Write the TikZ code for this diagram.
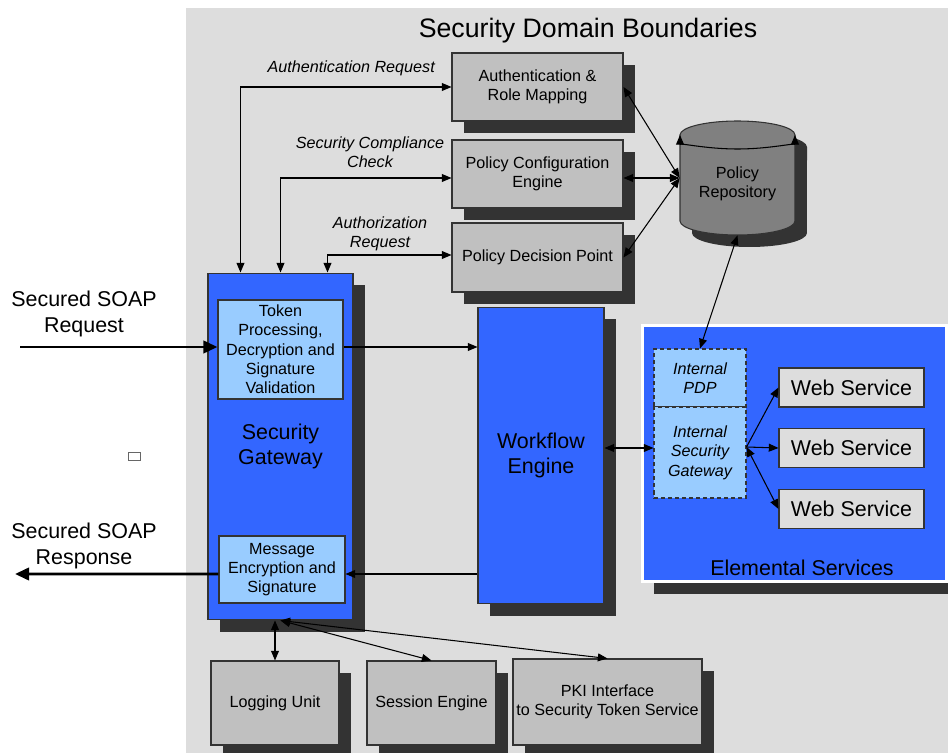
\documentclass[tikz,border=0pt]{standalone}
\usepackage{fontspec}
\setmainfont{Liberation Sans}
\usetikzlibrary{arrows.meta}
\usetikzlibrary{shadows}
\usetikzlibrary{calc}

\definecolor{bggray}{HTML}{DDDDDD}
\definecolor{boxgray}{HTML}{C0C0C0}
\definecolor{shadowgray}{HTML}{333333}
\definecolor{gwblue}{HTML}{3366FF}
\definecolor{lightblue}{HTML}{99CCFF}
\definecolor{repogray}{HTML}{808080}

\newcommand{\smalltxt}{\fontsize{9.2}{11}\selectfont}
\newcommand{\bigtxt}{\fontsize{12.2}{14.7}\selectfont}

\begin{document}
\begin{tikzpicture}[x=0.02cm, y=-0.02cm, >={Triangle[length=5.5pt,width=4.5pt]},
    hard shadow/.style={drop shadow={shadow xshift=6.8pt, shadow yshift=-6.8pt, fill=shadowgray, opacity=1}},
    box/.style={draw=shadowgray, line width=0.6pt, align=center, inner sep=0pt, font=\smalltxt},
    gray box/.style={box, fill=boxgray, hard shadow},
    blue box/.style={box, fill=gwblue, font=\bigtxt, hard shadow},
    inner box/.style={box, fill=lightblue},
    dashed box/.style={box, fill=lightblue, dash pattern=on 2.3pt off 1.7pt, font=\smalltxt\itshape},
    ws box/.style={box, fill=bggray, font=\bigtxt},
    link/.style={line width=0.6pt},
    big arrow/.style={line width=1.7pt, -{Triangle[length=8pt,width=7pt]}}]

    \useasboundingbox (0,0) rectangle (948,753);
    \fill[bggray] (186,8) rectangle (948,753);

    \node[font=\fontsize{15.2}{18}\selectfont] (title) at (588,31) {Security Domain Boundaries};

    % policy boxes
    \node[gray box, minimum width=3.42cm, minimum height=1.36cm] (auth) at (537.5,87) {Authentication \&\\Role Mapping};
    \node[gray box, minimum width=3.42cm, minimum height=1.36cm] (config) at (537.5,174) {Policy Configuration\\Engine};
    \node[gray box, minimum width=3.42cm, minimum height=1.38cm] (pdp) at (537.5,257.5) {Policy Decision Point};

    % repository
    \begin{scope}[shift={(12,12)}]
        \fill[shadowgray] (680,135) -- (680,221) arc[start angle=180, end angle=360, x radius=1.15cm, y radius=0.28cm]
            -- (795,135) arc[start angle=0, end angle=180, x radius=1.15cm, y radius=0.28cm] -- cycle;
    \end{scope}
    \filldraw[fill=repogray, draw=shadowgray, line width=0.6pt] (680,135) -- (680,221) arc[start angle=180, end angle=360, x radius=1.15cm, y radius=0.28cm]
        -- (795,135) arc[start angle=0, end angle=180, x radius=1.15cm, y radius=0.28cm] -- cycle;
    \draw[link, <->] (680,135) arc[start angle=180, end angle=360, x radius=1.15cm, y radius=0.28cm];
    \node[minimum width=2.3cm, minimum height=2.28cm, inner sep=0pt] (repo) at (737.5,178) {};
    \node[font=\smalltxt, align=center] (repotext) at (737.5,184) {Policy\\Repository};

    % gateway
    \node[blue box, minimum width=2.9cm, minimum height=6.94cm] (gw) at (280.5,446.5) {Security\\Gateway};
    \node[inner box, minimum width=2.5cm, minimum height=1.98cm] (token) at (280.5,349.5) {Token\\Processing,\\Decryption and\\Signature\\Validation};
    \node[inner box, minimum width=2.52cm, minimum height=1.34cm] (msg) at (282,569.5) {Message\\Encryption and\\Signature};

    \node[blue box, minimum width=2.52cm, minimum height=5.94cm] (wf) at (541,455.5) {Workflow\\Engine};

    % elemental services
    \node[draw=white, line width=1.7pt, fill=gwblue, minimum width=6.1cm, minimum height=5.14cm, hard shadow] (elem) at (794.5,453.5) {};
    \node[font=\bigtxt] (elemtext) at (802,568) {Elemental Services};
    \node[dashed box, minimum width=1.84cm, minimum height=1.16cm] (ipdp) at (700,378) {Internal\\PDP};
    \node[dashed box, minimum width=1.84cm, minimum height=1.82cm] (isg) at (700,452.5) {Internal\\Security\\Gateway};
    \foreach \y/\n in {387.5/ws1, 448/ws2, 509/ws3}
        \node[ws box, minimum width=2.9cm, minimum height=0.78cm] (\n) at (851.5,\y) {Web Service};

    % bottom row
    \node[gray box, minimum width=2.56cm, minimum height=1.68cm] (log) at (275,703) {Logging Unit};
    \node[gray box, minimum width=2.58cm, minimum height=1.68cm] (ses) at (431.5,703) {Session Engine};
    \node[gray box, minimum width=3.78cm, minimum height=1.72cm] (pki) at (607.5,702) {PKI Interface\\to Security Token Service};

    % outside
    \node[font=\bigtxt, align=center] (req) at (84,314) {Secured SOAP\\Request};
    \node[font=\bigtxt, align=center] (resp) at (84,546) {Secured SOAP\\Response};
    \node[draw=black!60, fill=white, minimum width=0.24cm, minimum height=0.16cm, inner sep=0pt] (dot) at (134,456) {};
    \coordinate (in) at (20,347);
    \coordinate (out) at (15,574);

    % request labels
    \node[font=\smalltxt\itshape, anchor=east] (authreq) at (441,68) {Authentication Request};
    \node[font=\smalltxt\itshape, align=center] (compl) at (370,152) {Security Compliance\\Check};
    \node[font=\smalltxt\itshape, align=center] (authz) at (380,234) {Authorization\\Request};

    % connectors
    \draw[link, <->] (auth.west) -| ([xshift=0.66cm]gw.north west);
    \draw[link, <->] ([yshift=-0.08cm]config.west) -| (gw.north);
    \draw[link, <->] ([yshift=0.05cm]pdp.west) -| ([xshift=-0.52cm]gw.north east);

    \draw[link, <->] (auth.east) -- (repo.west);
    \draw[link, <->] (repo.west -| config.east) -- (repo.west);
    \draw[link, <->] (pdp.east) -- (repo.west);
    \draw[link, <->] (repo.south) -- (ipdp.north);

    \draw[big arrow] (in) -- (in -| token.west);
    \draw[link, ->] ([yshift=0.05cm]token.east) -- ([yshift=0.05cm]token.east -| wf.west);
    \coordinate (msgin) at ([yshift=-0.09cm]msg.east);
    \draw[link, ->] (msgin -| wf.west) -- (msgin);
    \draw[big arrow] ([yshift=-0.09cm]msg.west) -- (out);

    \coordinate (isgin) at ([yshift=0.09cm]isg.west);
    \draw[link, <->] (isgin -| wf.east) -- (isgin);
    \coordinate (isgout) at ([yshift=0.11cm]isg.east);
    \draw[link, ->] (isgout) -- (ws1.west);
    \draw[link, ->] (isgout) -- (ws2.west);
    \draw[link, <->] (isgout) -- (ws3.west);

    \draw[link, <->] (log.north) -- (log.north |- gw.south);
    \draw[link, <->] (gw.south) -- (ses.north);
    \draw[link, <->] (gw.south) -- (pki.north);

\end{tikzpicture}
\end{document}
